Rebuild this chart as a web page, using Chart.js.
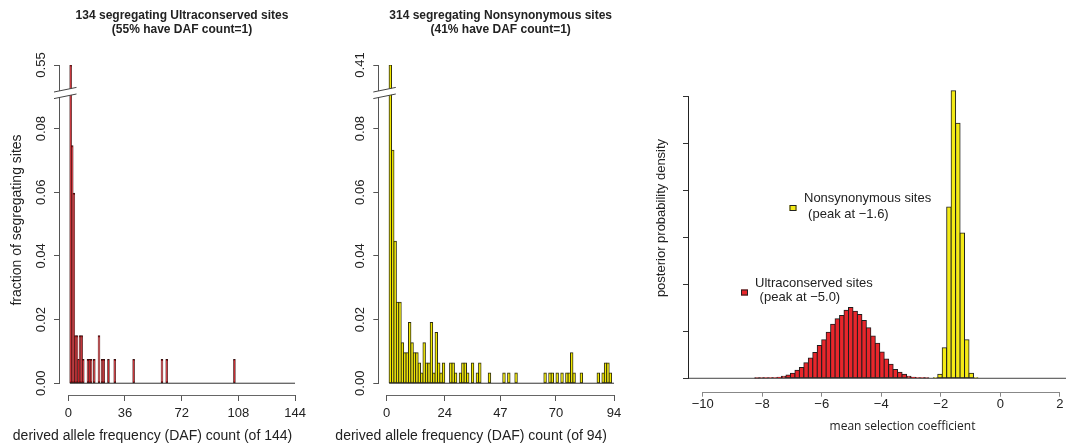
<!DOCTYPE html>
<html>
<head>
<meta charset="utf-8">
<title>Derived allele frequencies and selection coefficients</title>
<script src="https://cdn.jsdelivr.net/npm/chart.js@4.4.1/dist/chart.umd.min.js"></script>
<style>
  html, body { margin: 0; padding: 0; background: #fff; overflow: hidden; }
  #figure { position: relative; width: 1066px; height: 444px; overflow: hidden; }
  #figure canvas { position: absolute; top: 0; }
</style>
</head>
<body>
<div id="figure">
  <canvas id="ucChart" width="320" height="444" style="left:0"></canvas>
  <canvas id="nsChart" width="320" height="444" style="left:320px"></canvas>
  <canvas id="selChart" width="476" height="444" style="left:640px"></canvas>
</div>
<script>
Chart.defaults.font.family = "'Liberation Sans', Arial, Helvetica, sans-serif";
Chart.defaults.color = '#222';

// left panel: ultraconserved sites, DAF count -> number of segregating sites
const ucTotal = 134;
const ucDaf   = [1, 2, 3, 4, 5, 6, 7, 8, 9, 12, 13, 14, 16, 19, 21, 22, 25, 29, 41, 59, 62, 105];
const ucSites = [74, 10, 8, 2, 2, 1, 2, 2, 1, 1, 1, 1, 1, 2, 1, 1, 1, 1, 1, 1, 1, 1];
const ucTicksX = [0, 36, 72, 108, 144];

// middle panel: nonsynonymous sites
const nsTotal = 314;
const nsDaf   = [1, 2, 3, 4, 5, 6, 7, 8, 9, 10, 11, 12, 13, 14, 15, 16, 17, 18, 19, 20, 21, 22, 23,
                 26, 27, 28, 30, 31, 32, 33, 35, 37, 38, 42, 48, 50, 53,
                 65, 67, 68, 70, 72, 74, 75, 76, 77, 80, 87, 89, 90, 91, 92];
const nsSites = [129, 23, 14, 8, 8, 4, 3, 3, 6, 4, 3, 3, 2, 1, 4, 2, 2, 6, 1, 5, 2, 1, 2,
                 2, 2, 1, 1, 2, 2, 1, 2, 1, 2, 1, 1, 1, 1,
                 1, 1, 1, 1, 1, 1, 1, 3, 1, 1, 1, 1, 2, 2, 1];
const nsTicksX = [0, 24, 47, 70, 94];

const fracTicksY = [0, 0.02, 0.04, 0.06, 0.08];

// right panel: posterior of the mean selection coefficient (bins of 0.15)
const ucCoef = [-8.175, -8.025, -7.875, -7.725, -7.575, -7.425, -7.275, -7.125, -6.975, -6.825,
                -6.675, -6.525, -6.375, -6.225, -6.075, -5.925, -5.775, -5.625, -5.475, -5.325,
                -5.175, -5.025, -4.875, -4.725, -4.575, -4.425, -4.275, -4.125, -3.975, -3.825,
                -3.675, -3.525, -3.375, -3.225, -3.075, -2.925, -2.775, -2.625, -2.475];
const ucDensity = [0.003, 0.005, 0.007, 0.010, 0.014, 0.021, 0.043, 0.071, 0.106, 0.17,
                   0.23, 0.33, 0.43, 0.55, 0.70, 0.82, 0.98, 1.15, 1.27, 1.34,
                   1.45, 1.51, 1.43, 1.36, 1.23, 1.08, 0.90, 0.745, 0.56, 0.41,
                   0.30, 0.19, 0.128, 0.085, 0.043, 0.021, 0.014, 0.007, 0.004];
const nsCoef = [-2.175, -2.025, -1.875, -1.725, -1.575, -1.425, -1.275, -1.125, -0.975, -0.825];
const nsDensity = [0.014, 0.085, 0.65, 3.65, 6.13, 5.44, 3.10, 0.82, 0.11, 0.014];
const selTicksX = [-10, -8, -6, -4, -2, 0, 2];
const selTicksY = [0, 1, 2, 3, 4, 5, 6];

const ucRed = '#e8262b';
const nsYellow = '#f3ea16';
const labelFont = "14px 'Liberation Sans', Arial, sans-serif";

// R style axes: line only from first to last tick, optional axis break, free text
const rAxes = {
  id: 'rAxes',
  afterDraw(chart, args, opts) {
    const ctx = chart.ctx;
    const area = chart.chartArea;
    ctx.save();
    ctx.lineWidth = 1;
    ['x', 'y'].forEach(id => {
      const s = chart.scales[id];
      const a = s.getPixelForValue(s.ticks[0].value);
      const b = s.getPixelForValue(s.ticks[s.ticks.length - 1].value);
      ctx.strokeStyle = opts[id + 'Color'] || '#555';
      ctx.beginPath();
      if (id === 'x') {
        const y = Math.round(s.top) + 0.5;
        ctx.moveTo(a, y); ctx.lineTo(b, y);
      } else {
        const x = Math.round(s.right) - 0.5;
        ctx.moveTo(x, a); ctx.lineTo(x, b);
      }
      ctx.stroke();
    });

    if (opts.breakAt != null) {
      const yc = chart.scales.y.getPixelForValue(opts.breakAt);
      const x0 = area.left - 6, x1 = area.left + 16.5;
      const gap = 3.3, rise = 4.6;
      ctx.fillStyle = '#fff';
      ctx.beginPath();
      ctx.moveTo(x0, yc - gap + rise / 2);
      ctx.lineTo(x1, yc - gap - rise / 2);
      ctx.lineTo(x1, yc + gap - rise / 2);
      ctx.lineTo(x0, yc + gap + rise / 2);
      ctx.closePath();
      ctx.fill();
      ctx.strokeStyle = '#444';
      [-gap, gap].forEach(d => {
        ctx.beginPath();
        ctx.moveTo(x0, yc + d + rise / 2);
        ctx.lineTo(x1, yc + d - rise / 2);
        ctx.stroke();
      });
    }

    (opts.swatches || []).forEach(sw => {
      ctx.fillStyle = sw.fill;
      ctx.fillRect(sw.x, sw.y, sw.w, sw.h);
      ctx.strokeStyle = '#222';
      ctx.strokeRect(sw.x + 0.5, sw.y + 0.5, sw.w - 1, sw.h - 1);
    });

    (opts.texts || []).forEach(t => {
      ctx.save();
      ctx.fillStyle = '#222';
      ctx.font = t.font || "13px 'Liberation Sans', Arial, sans-serif";
      ctx.textAlign = t.align || 'left';
      ctx.textBaseline = 'middle';
      // x given as {dx} is measured from the middle of the plot area
      const x = typeof t.x === 'object' ? (area.left + area.right) / 2 + t.x.dx : t.x;
      ctx.translate(x, t.y);
      if (t.rot) ctx.rotate(t.rot * Math.PI / 180);
      ctx.fillText(t.text, 0, 0);
      ctx.restore();
    });
    ctx.restore();
  }
};

function dafChart(id, cfg) {
  const top = cfg.sites[0] / cfg.total;
  // broken y axis: everything below 0.09 to scale, the one tall bar pulled down to 0.1
  const squash = v => (v > 0.09 ? 0.1 + (v - top) : v);
  const ticksY = fracTicksY.concat([top]);
  const lastX = cfg.ticksX[cfg.ticksX.length - 1];
  const texts = [{ text: cfg.xTitle, x: { dx: -29.5 }, y: 436, align: 'center', font: labelFont }].concat(cfg.texts);

  return new Chart(document.getElementById(id), {
    type: 'bar',
    data: {
      datasets: [
        {
          type: 'line',
          data: [{ x: 1, y: 0 }, { x: lastX, y: 0 }],
          borderColor: '#333',
          borderWidth: 1,
          pointRadius: 0,
          order: 0
        },
        {
          data: cfg.daf.map((k, i) => ({ x: k + 0.5, y: squash(cfg.sites[i] / cfg.total) })),
          backgroundColor: cfg.fill,
          borderColor: cfg.edge,
          borderWidth: 1,
          borderSkipped: false,
          inflateAmount: 0.5,
          grouped: false,
          barPercentage: 1,
          categoryPercentage: 1,
          order: 1
        }
      ]
    },
    options: {
      responsive: false,
      animation: false,
      events: [],
      layout: { padding: { left: 0, right: cfg.padRight, top: 0, bottom: 0 } },
      plugins: {
        legend: { display: false },
        tooltip: { enabled: false },
        title: {
          display: true,
          text: cfg.title,
          fullSize: false,
          color: '#222',
          font: { size: 12, weight: 'bold' },
          padding: { top: 8.3, bottom: 27.9 }
        },
        rAxes: { breakAt: 0.0912, xColor: '#666', yColor: '#555', texts: texts }
      },
      scales: {
        x: {
          type: 'linear',
          offset: false,
          min: cfg.xMin,
          max: cfg.xMax,
          afterBuildTicks: s => { s.ticks = cfg.ticksX.map(v => ({ value: v })); },
          afterFit: s => { s.height = 49; },
          border: { display: false },
          grid: { drawOnChartArea: false, offset: false, tickLength: 6, tickColor: '#555' },
          ticks: { padding: 5, autoSkip: false, maxRotation: 0, font: { size: 13 }, color: '#222' }
        },
        y: {
          min: -0.0037,
          max: 0.1,
          afterBuildTicks: s => { s.ticks = ticksY.map(v => ({ value: squash(v) })); },
          afterFit: s => { s.width = cfg.axisLeft; },
          border: { display: false },
          grid: { drawOnChartArea: false, tickLength: 6, tickColor: '#555' },
          ticks: {
            padding: 0,
            autoSkip: false,
            minRotation: 90,
            maxRotation: 90,
            crossAlign: 'center',
            font: { size: 13 },
            color: '#222',
            callback: v => (v > 0.095 ? top : v).toFixed(2)
          }
        }
      }
    },
    plugins: [rAxes]
  });
}

dafChart('ucChart', {
  total: ucTotal, daf: ucDaf, sites: ucSites, ticksX: ucTicksX,
  xMin: -5.27, xMax: 149.7, axisLeft: 60, padRight: 16,
  fill: '#c41a20', edge: '#3a1010',
  title: ['134 segregating Ultraconserved sites', '(55% have DAF count=1)'],
  xTitle: 'derived allele frequency (DAF) count (of 144)',
  texts: [{ text: 'fraction of segregating sites', x: 17, y: 220, rot: -90, align: 'center', font: labelFont }]
});

dafChart('nsChart', {
  total: nsTotal, daf: nsDaf, sites: nsSites, ticksX: nsTicksX,
  xMin: -3.06, xMax: 97.3, axisLeft: 59.3, padRight: 18,
  fill: '#f2e800', edge: '#2e2e10',
  title: ['314 segregating Nonsynonymous sites', '(41% have DAF count=1)'],
  xTitle: 'derived allele frequency (DAF) count (of 94)',
  texts: []
});

const selMin = -10.46, selMax = 3.89;

new Chart(document.getElementById('selChart'), {
  type: 'bar',
  data: {
    datasets: [
      {
        type: 'line',
        data: [{ x: selMin, y: 0 }, { x: selMax, y: 0 }],
        borderColor: '#444',
        borderWidth: 1,
        pointRadius: 0,
        order: 0
      },
      {
        label: 'Ultraconserved sites',
        data: ucCoef.map((x, i) => ({ x: x, y: ucDensity[i] })),
        backgroundColor: ucRed,
        borderColor: '#1e1e1e',
        borderWidth: 1,
        borderSkipped: false,
        inflateAmount: 0.5,
        grouped: false,
        barPercentage: 1,
        categoryPercentage: 1,
        order: 1
      },
      {
        label: 'Nonsynonymous sites',
        data: nsCoef.map((x, i) => ({ x: x, y: nsDensity[i] })),
        backgroundColor: nsYellow,
        borderColor: '#1e1e1e',
        borderWidth: 1,
        borderSkipped: false,
        inflateAmount: 0.5,
        grouped: false,
        barPercentage: 1,
        categoryPercentage: 1,
        order: 1
      }
    ]
  },
  options: {
    responsive: false,
    animation: false,
    events: [],
    layout: { padding: { left: 0, right: 0, top: 80, bottom: 0 } },
    plugins: {
      legend: { display: false },
      tooltip: { enabled: false },
      rAxes: {
        xColor: '#888',
        yColor: '#222',
        swatches: [
          { x: 149.5, y: 205, w: 7, h: 6, fill: nsYellow },
          { x: 101, y: 289.5, w: 7, h: 6, fill: ucRed }
        ],
        texts: [
          { text: 'posterior probability density', x: 21.7, y: 218, rot: -90, align: 'center' },
          { text: 'Nonsynonymous sites', x: 164, y: 198.5 },
          { text: ' (peak at \u22121.6)', x: 164.5, y: 214 },
          { text: 'Ultraconserved sites', x: 115, y: 283.3 },
          { text: ' (peak at \u22125.0)', x: 116, y: 297.3 }
        ]
      }
    },
    scales: {
      x: {
        type: 'linear',
        offset: false,
        min: selMin,
        max: selMax,
        afterBuildTicks: s => { s.ticks = selTicksX.map(v => ({ value: v })); },
        afterFit: s => { s.height = 52.3; },
        border: { display: false },
        grid: { drawOnChartArea: false, offset: false, tickLength: 5, tickColor: '#888' },
        ticks: {
          padding: 0,
          autoSkip: false,
          maxRotation: 0,
          font: { size: 13 },
          color: '#222',
          callback: v => (v < 0 ? '\u2212' + (-v) : String(v))
        },
        title: {
          display: true,
          text: 'mean selection coefficient',
          color: '#222',
          font: { family: "'Open Sans', 'Liberation Sans', sans-serif", size: 12 },
          padding: { top: 0, bottom: 10 }
        }
      },
      y: {
        min: -0.286,
        max: 6.36,
        afterBuildTicks: s => { s.ticks = selTicksY.map(v => ({ value: v })); },
        afterFit: s => { s.width = 49; },
        border: { display: false },
        grid: { drawOnChartArea: false, tickLength: 6, tickColor: '#333' },
        ticks: { display: true, callback: () => '' }
      }
    }
  },
  plugins: [rAxes]
});
</script>
</body>
</html>
